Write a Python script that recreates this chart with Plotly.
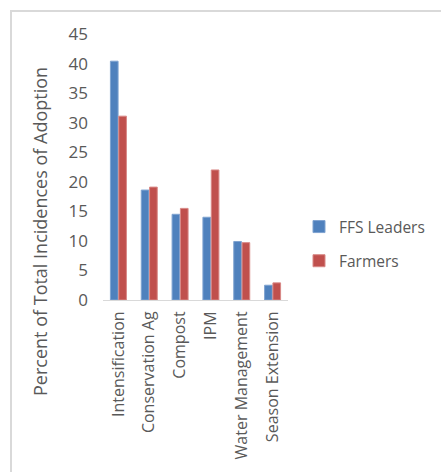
import plotly.graph_objects as go

categories = ["Intensification", "Conservation Ag", "Compost", "IPM", "Water Management", "Season Extension"]
ffs_leaders = [40.4, 18.6, 14.5, 14.0, 9.9, 2.5]
farmers = [31.1, 19.1, 15.5, 22.0, 9.7, 2.9]
y_ticks = [0, 5, 10, 15, 20, 25, 30, 35, 40, 45]

W, H = 441, 472
L, R, T, B = 103, 153, 34, 172
PW, PH = W - L - R, H - T - B

def px_x(x):
    return (x - L) / PW

def px_y(y):
    return (H - B - y) / PH

FONT = "Open Sans"
GREY = "#595959"

fig = go.Figure()
fig.add_trace(go.Bar(x=categories, y=ffs_leaders, name="FFS Leaders",
                     marker=dict(color="#4f81bd", line=dict(color="#7fa3d0", width=1)),
                     legendgroup="a"))
fig.add_trace(go.Bar(x=categories, y=farmers, name="Farmers",
                     marker=dict(color="#c0504d", line=dict(color="#d88886", width=1)),
                     legendgroup="b"))

fig.update_layout(
    width=W, height=H,
    margin=dict(l=L, r=R, t=T, b=B, pad=0, autoexpand=False),
    paper_bgcolor="white", plot_bgcolor="white",
    barmode="group", bargap=0.46, bargroupgap=0.08,
    font=dict(family=FONT, size=16, color=GREY),
    showlegend=True,
    legend=dict(x=px_x(299), y=px_y(244), xanchor="left", yanchor="middle",
                traceorder="grouped", tracegroupgap=11,
                font=dict(family=FONT, size=15.5, color=GREY),
                itemwidth=30, bgcolor="rgba(0,0,0,0)"),
    xaxis=dict(showline=True, linecolor="#d9d9d9", linewidth=1, showgrid=False,
               tickangle=-90, ticks="", ticklabelstandoff=4,
               tickfont=dict(family=FONT, size=16, color=GREY),
               zeroline=False, automargin=False),
    yaxis=dict(range=[0, 45], tickvals=y_ticks, showgrid=False, zeroline=False,
               showline=False, ticks="", ticklabelstandoff=14, automargin=False,
               tickfont=dict(family=FONT, size=17, color=GREY)),
    shapes=[dict(type="rect", xref="paper", yref="paper",
                 x0=px_x(11), x1=px_x(W + 20), y0=px_y(H + 20), y1=px_y(11),
                 line=dict(color="#d9d9d9", width=2), fillcolor="rgba(0,0,0,0)", layer="below")],
    annotations=[dict(text="Percent of Total Incidences of Adoption", xref="paper", yref="paper",
                      x=px_x(40), y=px_y(232), textangle=-90, showarrow=False,
                      xanchor="center", yanchor="middle",
                      font=dict(family=FONT, size=18, color=GREY))],
)

fig.write_html("out.html", config={"displayModeBar": False},
               post_script="document.body.style.margin='0';document.body.style.overflow='hidden';")
